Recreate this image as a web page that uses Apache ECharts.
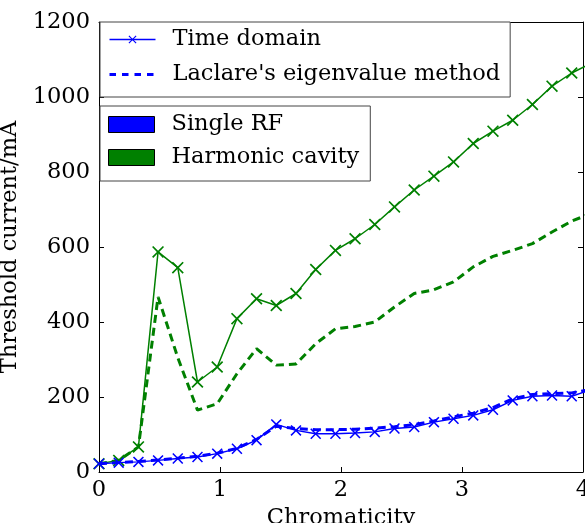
<!DOCTYPE html>
<html>
<head>
<meta charset="utf-8">
<script src="https://cdn.jsdelivr.net/npm/echarts@6/dist/echarts.min.js"></script>
<style>
html, body { margin: 0; padding: 0; background: #fff; }
#chart { width: 585px; height: 523px; }
</style>
</head>
<body>
<div id="chart"></div>
<script>
// chromaticity samples (step ~0.163)
var chroma = [0, 0.163, 0.326, 0.488, 0.651, 0.814, 0.977, 1.140, 1.302, 1.465,
              1.628, 1.791, 1.954, 2.116, 2.279, 2.442, 2.605, 2.768, 2.930, 3.093,
              3.256, 3.419, 3.582, 3.744, 3.907, 4.070];
var singleTime = [22, 25, 27, 31, 36, 40, 49, 62, 85, 127,
                  111, 102, 102, 104, 107, 116, 120, 133, 142, 151,
                  166, 191, 202, 204, 202, 220];
var singleLaclare = [22, 25, 28, 32, 37, 42, 50, 63, 87, 122,
                     116, 113, 113, 114, 117, 121, 126, 136, 147, 157,
                     172, 195, 207, 209, 211, 220];
var harmTime = [22, 31, 67, 587, 545, 240, 280, 409, 462, 444,
                476, 540, 591, 622, 660, 707, 752, 789, 827, 876,
                909, 938, 980, 1029, 1064, 1090];
var harmLaclare = [22, 31, 67, 467, 305, 165, 182, 262, 329, 285,
                   288, 342, 382, 388, 400, 440, 476, 486, 507, 547,
                   575, 591, 609, 640, 669, 690];
var xTicks = [0, 1, 2, 3, 4];
var yTicks = [0, 200, 400, 600, 800, 1000, 1200];

var FONT = 'DejaVu Serif';
var FSIZE = 22.5;
var BLUE = '#0000ff';
var GREEN = '#008000';
var XMARK = 'path://M0,1L1,0L5,4L9,0L10,1L6,5L10,9L9,10L5,6L1,10L0,9L4,5Z';

function pairs(xs, ys) {
	var out = [];
	for (var i = 0; i < ys.length; i++) {
		out.push([xs[i], ys[i]]);
	}
	return out;
}

function axisBase(show) {
	return {
		axisLine : { show : true, onZero : false, lineStyle : { color : '#000', width : 1 } },
		axisTick : { show : true, inside : true, length : 5, lineStyle : { color : '#000' } },
		axisLabel : { show : show, color : '#000', fontFamily : FONT, fontSize : FSIZE,
		              formatter : function(v) { return String(v); } },
		splitLine : { show : false }
	};
}

function initChart() {
	var xBottom = axisBase(true);
	xBottom.type = 'value';
	xBottom.min = xTicks[0];
	xBottom.max = xTicks[xTicks.length - 1];
	xBottom.interval = 1;
	xBottom.position = 'bottom';
	xBottom.axisLabel.margin = 7;
	xBottom.name = 'Chromaticity';
	xBottom.nameLocation = 'middle';
	xBottom.nameGap = 26;
	xBottom.nameTextStyle = { color : '#000', fontFamily : FONT, fontSize : FSIZE };

	var xTop = axisBase(false);
	xTop.type = 'value';
	xTop.min = xTicks[0];
	xTop.max = xTicks[xTicks.length - 1];
	xTop.interval = 1;
	xTop.position = 'top';

	var yLeft = axisBase(true);
	yLeft.type = 'value';
	yLeft.min = yTicks[0];
	yLeft.max = yTicks[yTicks.length - 1];
	yLeft.interval = 200;
	yLeft.position = 'left';
	yLeft.axisLabel.margin = 9;
	yLeft.name = 'Threshold current/mA';
	yLeft.nameLocation = 'middle';
	yLeft.nameGap = 67;
	yLeft.nameTextStyle = { color : '#000', fontFamily : FONT, fontSize : FSIZE };

	var yRight = axisBase(false);
	yRight.type = 'value';
	yRight.min = yTicks[0];
	yRight.max = yTicks[yTicks.length - 1];
	yRight.interval = 200;
	yRight.position = 'right';

	var legendText = { color : '#000', fontFamily : FONT, fontSize : FSIZE, padding : [0, 0, 0, 12] };

	var option = {
		animation : false,
		grid : { left : 99, top : 22, right : 2, bottom : 51, containLabel : false, outerBoundsMode : 'none' },
		xAxis : [ xBottom, xTop ],
		yAxis : [ yLeft, yRight ],
		legend : [ {
			orient : 'vertical',
			left : 100,
			top : 22,
			selectedMode : false,
			itemWidth : 46,
			itemHeight : 10,
			itemGap : 12,
			padding : [6, 10, 11, 8],
			backgroundColor : '#fff',
			borderColor : '#444',
			borderWidth : 1,
			borderRadius : 0,
			textStyle : legendText,
			data : [ {
				name : 'Time domain',
				lineStyle : { width : 1.5 }
			}, {
				name : "Laclare's eigenvalue method",
				itemStyle : { opacity : 0 },
				lineStyle : { width : 3, type : [6.5, 6] }
			} ]
		}, {
			orient : 'vertical',
			left : 100,
			top : 106,
			selectedMode : false,
			itemWidth : 46,
			itemHeight : 16,
			itemGap : 10,
			padding : [7, 11, 12, 8],
			backgroundColor : '#fff',
			borderColor : '#444',
			borderWidth : 1,
			borderRadius : 0,
			textStyle : legendText,
			data : [ {
				name : 'Single RF',
				icon : 'rect',
				itemStyle : { color : BLUE, borderColor : '#000', borderWidth : 1 }
			}, {
				name : 'Harmonic cavity',
				icon : 'rect',
				itemStyle : { color : GREEN, borderColor : '#000', borderWidth : 1 }
			} ]
		} ],
		series : [ {
			name : 'Harmonic cavity (Laclare)',
			type : 'line',
			data : pairs(chroma, harmLaclare),
			showSymbol : false,
			symbol : 'none',
			z : 2,
			lineStyle : { color : GREEN, width : 3, type : [8, 5] }
		}, {
			name : 'Harmonic cavity (time domain)',
			type : 'line',
			data : pairs(chroma, harmTime),
			symbol : XMARK,
			symbolSize : 12,
			z : 3,
			itemStyle : { color : GREEN },
			lineStyle : { color : GREEN, width : 1.5 }
		}, {
			name : "Laclare's eigenvalue method",
			type : 'line',
			data : pairs(chroma, singleLaclare),
			symbol : 'none',
			z : 4,
			itemStyle : { color : BLUE },
			lineStyle : { color : BLUE, width : 3, type : [8, 5] }
		}, {
			name : 'Time domain',
			type : 'line',
			data : pairs(chroma, singleTime),
			symbol : XMARK,
			symbolSize : 11,
			z : 5,
			itemStyle : { color : BLUE },
			lineStyle : { color : BLUE, width : 1.5 }
		}, {
			name : 'Single RF',
			type : 'line',
			data : [],
			itemStyle : { color : BLUE }
		}, {
			name : 'Harmonic cavity',
			type : 'line',
			data : [],
			itemStyle : { color : GREEN }
		} ]
	};
	var chart = echarts.init(document.getElementById('chart'));
	chart.setOption(option);
}
initChart();
</script>
</body>
</html>
